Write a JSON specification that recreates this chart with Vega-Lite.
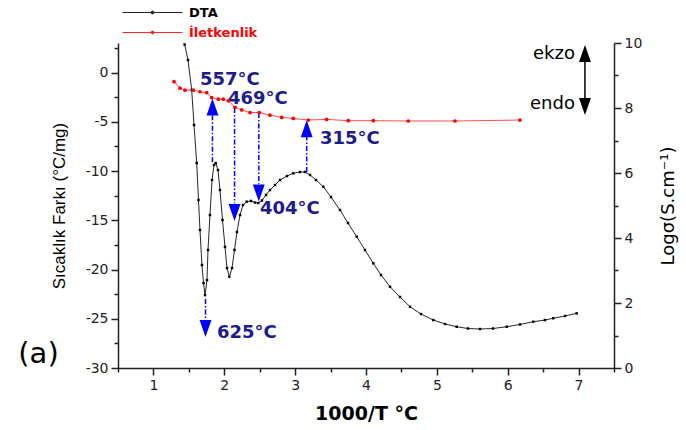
{
  "$schema": "https://vega.github.io/schema/vega-lite/v6.json",
  "width": 496,
  "height": 325,
  "autosize": {"type": "none"},
  "padding": {"left": 118, "top": 43, "right": 72, "bottom": 62},
  "background": "white",
  "config": {
    "view": {"stroke": null},
    "axis": {"grid": false, "domainColor": "#222222", "domainWidth": 1.5, "tickColor": "#222222", "tickWidth": 1.5, "labelColor": "#222222", "titleColor": "#000000", "labelFont": "DejaVu Sans", "labelFontSize": 14, "labelOverlap": false, "labelPadding": 3},
    "legend": {"padding": 0}
  },
  "datasets": {
    "dta": [
      {"x": 1.44, "y": 2.85}, {"x": 1.488, "y": 1.27}, {"x": 1.54, "y": -1.77}, {"x": 1.573, "y": -5.33},
      {"x": 1.611, "y": -9.19}, {"x": 1.636, "y": -12.94}, {"x": 1.657, "y": -15.99}, {"x": 1.685, "y": -19.54},
      {"x": 1.707, "y": -21.37}, {"x": 1.728, "y": -22.6}, {"x": 1.756, "y": -21.07}, {"x": 1.77, "y": -18.02},
      {"x": 1.798, "y": -14.47}, {"x": 1.827, "y": -10.91}, {"x": 1.855, "y": -9.39}, {"x": 1.879, "y": -9.19},
      {"x": 1.911, "y": -9.9}, {"x": 1.939, "y": -11.93}, {"x": 1.975, "y": -14.97}, {"x": 2.01, "y": -17.71},
      {"x": 2.038, "y": -19.85}, {"x": 2.071, "y": -20.73}, {"x": 2.109, "y": -19.85}, {"x": 2.144, "y": -18.02},
      {"x": 2.179, "y": -16.19}, {"x": 2.222, "y": -14.47}, {"x": 2.264, "y": -13.45}, {"x": 2.316, "y": -13.11},
      {"x": 2.377, "y": -13.04}, {"x": 2.433, "y": -13.2}, {"x": 2.48, "y": -13.25}, {"x": 2.532, "y": -12.99},
      {"x": 2.589, "y": -12.43}, {"x": 2.645, "y": -11.93}, {"x": 2.716, "y": -11.42}, {"x": 2.786, "y": -10.91},
      {"x": 2.885, "y": -10.51}, {"x": 2.974, "y": -10.23}, {"x": 3.068, "y": -10.1}, {"x": 3.139, "y": -10.1},
      {"x": 3.21, "y": -10.4}, {"x": 3.294, "y": -10.91}, {"x": 3.397, "y": -11.59}, {"x": 3.506, "y": -12.64},
      {"x": 3.633, "y": -13.96}, {"x": 3.746, "y": -15.28}, {"x": 3.869, "y": -16.67}, {"x": 3.986, "y": -18.02},
      {"x": 4.103, "y": -19.37}, {"x": 4.212, "y": -20.56}, {"x": 4.339, "y": -21.75}, {"x": 4.48, "y": -22.79},
      {"x": 4.621, "y": -23.78}, {"x": 4.776, "y": -24.52}, {"x": 4.95, "y": -25.13}, {"x": 5.115, "y": -25.53},
      {"x": 5.28, "y": -25.81}, {"x": 5.439, "y": -25.99}, {"x": 5.609, "y": -26.04}, {"x": 5.792, "y": -25.99},
      {"x": 5.986, "y": -25.81}, {"x": 6.173, "y": -25.58}, {"x": 6.361, "y": -25.3}, {"x": 6.526, "y": -25.13},
      {"x": 6.643, "y": -24.95}, {"x": 6.808, "y": -24.72}, {"x": 6.973, "y": -24.45}
    ],
    "cond": [
      {"x": 1.29, "y": 8.81}, {"x": 1.375, "y": 8.61}, {"x": 1.446, "y": 8.55}, {"x": 1.563, "y": 8.55},
      {"x": 1.657, "y": 8.5}, {"x": 1.752, "y": 8.47}, {"x": 1.822, "y": 8.32}, {"x": 1.916, "y": 8.27},
      {"x": 1.986, "y": 8.27}, {"x": 2.057, "y": 8.22}, {"x": 2.151, "y": 8.02}, {"x": 2.246, "y": 7.94},
      {"x": 2.363, "y": 7.86}, {"x": 2.494, "y": 7.86}, {"x": 2.645, "y": 7.78}, {"x": 2.81, "y": 7.71},
      {"x": 2.974, "y": 7.68}, {"x": 3.186, "y": 7.63}, {"x": 3.445, "y": 7.65}, {"x": 3.75, "y": 7.61},
      {"x": 4.103, "y": 7.61}, {"x": 4.597, "y": 7.6}, {"x": 5.256, "y": 7.6}, {"x": 6.173, "y": 7.63}
    ],
    "arrows": [
      {"x": 1.833, "y": -9.1, "y2": -4.2}, {"x": 2.145, "y": -3.6, "y2": -13.3},
      {"x": 2.487, "y": -4.1, "y2": -11.3}, {"x": 3.163, "y": -10.1, "y2": -6.5},
      {"x": 1.735, "y": -23.0, "y2": -25.2}
    ],
    "heads": [
      {"x": 1.833, "y": -3.5, "dir": "up"}, {"x": 3.163, "y": -5.7, "dir": "up"},
      {"x": 2.145, "y": -14.21, "dir": "down"}, {"x": 2.487, "y": -12.23, "dir": "down"},
      {"x": 1.735, "y": -26.0, "dir": "down"}
    ],
    "labels": [
      {"x": 1.657, "y": -0.71, "t": "557°C"}, {"x": 2.052, "y": -2.64, "t": "469°C"},
      {"x": 3.351, "y": -6.7, "t": "315°C"}, {"x": 2.504, "y": -13.86, "t": "404°C"},
      {"x": 1.897, "y": -26.4, "t": "625°C"}
    ],
    "ekzoLine": [{"x": 7.09, "y": 1.3, "y2": -2.8}],
    "ekzoHeads": [{"x": 7.09, "y": 1.93, "dir": "up"}, {"x": 7.09, "y": -3.45, "dir": "down"}],
    "ekzoText": [{"x": 6.949, "y": 1.88, "t": "ekzo"}, {"x": 6.949, "y": -3.19, "t": "endo"}],
    "panel": [{"x": -0.622, "y": -28.58, "t": "(a)"}]
  },
  "encoding": {
    "x": {
      "field": "x", "type": "quantitative",
      "scale": {"domain": [0.5, 7.5], "nice": false, "zero": false},
      "axis": {
        "title": "1000/T °C",
        "values": [0.5, 1, 1.5, 2, 2.5, 3, 3.5, 4, 4.5, 5, 5.5, 6, 6.5, 7, 7.5],
        "labelExpr": "datum.value % 1 === 0 ? '' + datum.value : ''",
        "tickSize": {"condition": {"test": "datum.value % 1 === 0", "value": 7}, "value": 4},
        "titleFont": "DejaVu Sans", "titleFontSize": 19, "titleFontWeight": "bold", "titlePadding": 12
      }
    }
  },
  "layer": [
    {
      "encoding": {
        "y": {
          "field": "y", "type": "quantitative",
          "scale": {"domain": [-30, 3], "nice": false, "zero": false},
          "axis": {
            "title": "Sıcaklık Farkı (°C/mg)",
            "values": [2.5, 0, -2.5, -5, -7.5, -10, -12.5, -15, -17.5, -20, -22.5, -25, -27.5, -30],
            "labelExpr": "datum.value % 5 === 0 ? '' + datum.value : ''",
            "tickSize": {"condition": {"test": "datum.value % 5 === 0", "value": 7}, "value": 4},
            "titleFont": "Liberation Sans", "titleFontSize": 17, "titleFontWeight": "normal", "titlePadding": 17
          }
        }
      },
      "layer": [
        {
          "data": {"name": "dta"},
          "mark": {"type": "line", "strokeWidth": 1, "opacity": 0.85, "point": {"filled": true, "shape": "square", "size": 6, "opacity": 1}},
          "encoding": {
            "color": {
              "datum": "DTA", "type": "nominal",
              "scale": {"domain": ["DTA", "İletkenlik"], "range": ["#000000", "#ff0000"]},
              "legend": {
                "orient": "none", "legendX": 24, "legendY": -41, "direction": "vertical", "title": null,
                "symbolType": "M-3,0L3,0M-0.15,0A0.15,0.15,0,1,0,0.15,0A0.15,0.15,0,1,0,-0.15,0",
                "symbolSize": 400, "symbolStrokeWidth": 1,
                "labelFont": "DejaVu Sans", "labelFontWeight": "bold", "labelFontSize": 13,
                "labelColor": {"expr": "datum.label === 'DTA' ? '#000000' : '#ff0000'"},
                "labelOffset": 26, "rowPadding": 2
              }
            }
          }
        },
        {
          "data": {"name": "arrows"},
          "mark": {"type": "rule", "color": "#0000ff", "strokeWidth": 1.5, "strokeDash": [5, 2, 1.5, 2]},
          "encoding": {"y2": {"field": "y2"}}
        },
        {
          "data": {"name": "heads"},
          "mark": {"type": "point", "filled": true, "opacity": 1, "color": "#0000ff", "size": 289},
          "encoding": {
            "shape": {"field": "dir", "type": "nominal", "scale": {"domain": ["up", "down"], "range": ["M0,-1L0.7,1L-0.7,1Z", "M-0.7,-1L0.7,-1L0,1Z"]}, "legend": null}
          }
        },
        {
          "data": {"name": "labels"},
          "mark": {"type": "text", "align": "left", "baseline": "middle", "font": "DejaVu Sans", "fontWeight": "bold", "fontSize": 18, "color": "#1c1c8c"},
          "encoding": {"text": {"field": "t"}}
        },
        {
          "data": {"name": "ekzoLine"},
          "mark": {"type": "rule", "color": "#000000", "strokeWidth": 1.5},
          "encoding": {"y2": {"field": "y2"}}
        },
        {
          "data": {"name": "ekzoHeads"},
          "mark": {"type": "point", "filled": true, "opacity": 1, "color": "#000000", "size": 289},
          "encoding": {
            "shape": {"field": "dir", "type": "nominal", "scale": {"domain": ["up", "down"], "range": ["M0,-1L0.7,1L-0.7,1Z", "M-0.7,-1L0.7,-1L0,1Z"]}, "legend": null}
          }
        },
        {
          "data": {"name": "ekzoText"},
          "mark": {"type": "text", "align": "right", "baseline": "middle", "font": "DejaVu Sans", "fontSize": 18, "color": "#000000"},
          "encoding": {"text": {"field": "t"}}
        },
        {
          "data": {"name": "panel"},
          "mark": {"type": "text", "align": "center", "baseline": "middle", "font": "DejaVu Sans", "fontSize": 29, "color": "#000000"},
          "encoding": {"text": {"field": "t"}}
        }
      ]
    },
    {
      "data": {"name": "cond"},
      "mark": {"type": "line", "strokeWidth": 1, "opacity": 0.7, "point": {"filled": true, "size": 14, "opacity": 1}},
      "encoding": {
        "y": {
          "field": "y", "type": "quantitative",
          "scale": {"domain": [0, 10], "nice": false, "zero": false},
          "axis": {
            "orient": "right",
            "title": "Logσ(S.cm⁻¹)",
            "values": [0, 1, 2, 3, 4, 5, 6, 7, 8, 9, 10],
            "labelExpr": "datum.value % 2 === 0 ? '' + datum.value : ''",
            "tickSize": {"condition": {"test": "datum.value % 2 === 0", "value": 7}, "value": 4},
            "titleFont": "DejaVu Sans", "titleFontSize": 18, "titleFontWeight": "normal", "titleAngle": 270, "titlePadding": 36
          }
        },
        "color": {"datum": "İletkenlik", "type": "nominal"}
      }
    }
  ],
  "resolve": {"scale": {"y": "independent"}}
}
